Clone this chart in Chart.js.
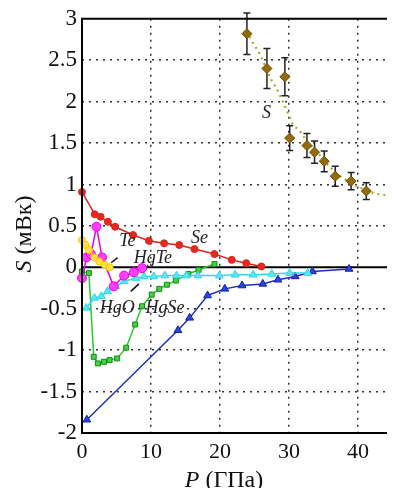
<!DOCTYPE html>
<html lang="ru">
<head>
<meta charset="UTF-8">
<title>S(P)</title>
<script src="https://cdn.jsdelivr.net/npm/chart.js@4.4.1/dist/chart.umd.min.js"></script>
<style>
  html, body { margin: 0; padding: 0; background: #fff; }
  #wrap { width: 393px; height: 488px; }
</style>
</head>
<body>
<div id="wrap"><canvas id="chart" width="393" height="488"></canvas></div>
<script>
// values (P in GPa, S in mV/K)
const seP   = [0, 1.85, 2.7, 3.75, 4.8, 7.4, 9.7, 11.9, 14.1, 16.3, 19.2, 21.7, 23.8, 26.0];
const seS   = [0.91, 0.64, 0.61, 0.55, 0.49, 0.39, 0.32, 0.29, 0.27, 0.22, 0.16, 0.09, 0.05, 0.01];

const teP   = [0, 0.5, 1.0, 1.8, 2.5, 3.3, 4.0];
const teS   = [0.33, 0.27, 0.21, 0.12, 0.07, 0.03, 0.0];

const hgteP = [0, 0.67, 1.3, 2.1, 2.9, 4.6, 6.1, 7.5, 8.7];
const hgteS = [-0.13, 0.12, 0.16, 0.49, 0.12, -0.23, -0.1, -0.06, -0.01];

const hgoP  = [0.6, 1.8, 2.8, 3.7, 4.9, 6.1, 7.8, 9.0, 10.4, 12.0, 13.7, 15.1, 16.8, 19.9, 22.2, 24.8, 27.5, 30.1, 32.7];
const hgoS  = [-0.49, -0.37, -0.35, -0.29, -0.23, -0.17, -0.13, -0.11, -0.11, -0.1, -0.1, -0.1, -0.1, -0.1, -0.09, -0.09, -0.08, -0.07, -0.07];

const hgseP = [0, 1.0, 1.7, 2.3, 3.2, 4.0, 5.1, 6.4, 7.7, 8.7, 10.1, 11.2, 12.3, 13.6, 15.4, 16.9, 19.2];
const hgseS = [-0.05, -0.07, -1.08, -1.16, -1.14, -1.12, -1.1, -0.97, -0.69, -0.47, -0.33, -0.26, -0.21, -0.16, -0.08, -0.03, 0.04];

const blueP = [0.7, 13.9, 15.6, 18.2, 20.7, 23.2, 26.2, 28.4, 30.9, 33.4, 38.7];
const blueS = [-1.84, -0.76, -0.61, -0.34, -0.26, -0.22, -0.2, -0.15, -0.11, -0.05, -0.02];

const sP    = [23.9, 26.8, 29.4, 30.1, 32.6, 33.7, 35.1, 36.7, 39.0, 41.2];
const sS    = [2.82, 2.40, 2.30, 1.56, 1.47, 1.39, 1.28, 1.10, 1.04, 0.92];
const sErr  = [0.25, 0.24, 0.23, 0.15, 0.145, 0.135, 0.125, 0.12, 0.105, 0.10];

const fitP  = [23.9, 24.7, 25.6, 26.5, 27.3, 28.2, 29.0, 29.8, 30.5, 31.7, 32.8, 34.1, 35.7, 37.2, 39.5, 42.4, 44.2];
const fitS  = [2.85, 2.72, 2.6, 2.44, 2.28, 2.16, 2.02, 1.87, 1.73, 1.63, 1.5, 1.39, 1.23, 1.11, 0.99, 0.89, 0.87];

const xTicks = [0, 10, 20, 30, 40];
const yTicks = [-2, -1.5, -1, -0.5, 0, 0.5, 1, 1.5, 2, 2.5, 3];

const pts = (xs, ys) => xs.map((x, i) => ({ x: x, y: ys[i] }));

const SERIF = '"Liberation Serif", "Times New Roman", Times, serif';
Chart.defaults.font.family = SERIF;

// text labels on the plot, placed in data coordinates
const curveLabels = [
  { text: 'Se',   x: 15.8, y: 0.35 },
  { text: 'S',    x: 26.1, y: 1.86 },
  { text: 'Te',   x: 5.4,  y: 0.31 },
  { text: 'HgTe', x: 7.5,  y: 0.11 },
  { text: 'HgO',  x: 2.56, y: -0.49 },
  { text: 'HgSe', x: 9.2,  y: -0.49 }
];
const leaders = [
  [4.22, 0.055, 5.16, 0.116],
  [7.07, -0.29, 8.25, -0.2]
];

const extras = {
  id: 'extras',
  beforeDatasetsDraw(chart) {
    const { ctx, chartArea: a, scales: { x, y } } = chart;
    ctx.save();
    // zero line
    ctx.strokeStyle = '#000';
    ctx.lineWidth = 2;
    ctx.beginPath();
    ctx.moveTo(a.left, y.getPixelForValue(0));
    ctx.lineTo(a.right, y.getPixelForValue(0));
    ctx.stroke();
    // error bars for S
    ctx.strokeStyle = '#222';
    ctx.lineWidth = 1.5;
    sP.forEach((p, i) => {
      const px = x.getPixelForValue(p);
      const top = y.getPixelForValue(sS[i] + sErr[i]);
      const bot = y.getPixelForValue(sS[i] - sErr[i]);
      ctx.beginPath();
      ctx.moveTo(px, top); ctx.lineTo(px, bot);
      ctx.moveTo(px - 3.5, top); ctx.lineTo(px + 3.5, top);
      ctx.moveTo(px - 3.5, bot); ctx.lineTo(px + 3.5, bot);
      ctx.stroke();
    });
    ctx.restore();
  },
  afterDraw(chart) {
    const { ctx, chartArea: a, scales: { x, y } } = chart;
    ctx.save();
    // frame: left, top, bottom
    ctx.strokeStyle = '#000';
    ctx.lineWidth = 2;
    ctx.beginPath();
    ctx.moveTo(a.right, a.top); ctx.lineTo(a.left, a.top);
    ctx.lineTo(a.left, a.bottom); ctx.lineTo(a.right, a.bottom);
    ctx.stroke();

    // curve labels
    ctx.fillStyle = '#222';
    ctx.font = 'italic 18px ' + SERIF;
    ctx.textBaseline = 'middle';
    ctx.textAlign = 'left';
    curveLabels.forEach(l => {
      ctx.fillText(l.text, x.getPixelForValue(l.x), y.getPixelForValue(l.y));
    });
    ctx.strokeStyle = '#111';
    ctx.lineWidth = 1.5;
    leaders.forEach(s => {
      ctx.beginPath();
      ctx.moveTo(x.getPixelForValue(s[0]), y.getPixelForValue(s[1]));
      ctx.lineTo(x.getPixelForValue(s[2]), y.getPixelForValue(s[3]));
      ctx.stroke();
    });

    // axis titles: italic symbol + upright unit
    const title = (sym, unit, cx, cy, rot) => {
      ctx.save();
      ctx.translate(cx, cy);
      ctx.rotate(rot);
      ctx.fillStyle = '#111';
      ctx.textBaseline = 'alphabetic';
      ctx.textAlign = 'left';
      ctx.font = 'italic 24px ' + SERIF;
      const w1 = ctx.measureText(sym).width;
      ctx.font = '24px ' + SERIF;
      const w2 = ctx.measureText(unit).width;
      const x0 = -(w1 + w2) / 2;
      ctx.font = 'italic 24px ' + SERIF;
      ctx.fillText(sym, x0, 0);
      ctx.font = '24px ' + SERIF;
      ctx.fillText(unit, x0 + w1, 0);
      ctx.restore();
    };
    title('P', ' (ГПа)', 224, 487, 0);
    title('S', ' (мВк)', 31, 234, -Math.PI / 2);
    ctx.restore();
  }
};

const line = (label, data, color, marker, radius, fill, extra) => Object.assign({
  label: label,
  data: data,
  borderColor: color,
  borderWidth: 1.5,
  pointStyle: marker,
  pointRadius: radius,
  pointBackgroundColor: fill,
  pointBorderColor: color,
  pointBorderWidth: 1,
  tension: 0,
  clip: false
}, extra || {});

new Chart(document.getElementById('chart'), {
  type: 'scatter',
  data: {
    datasets: [
      line('S', pts(sP, sS), '#6b4a00', 'rectRot', 5, '#946b0a', { showLine: false }),
      line('fit', pts(fitP, fitS), '#a8a82a', 'circle', 0, '#a8a82a', { showLine: true, borderWidth: 2.2, borderDash: [2, 4] }),
      line('Se', pts(seP, seS), '#e0221c', 'circle', 3.5, '#e8281f', { showLine: true }),
      line('Te', pts(teP, teS), '#f0c800', 'circle', 3.5, '#ffe24a', { showLine: true }),
      line('HgTe', pts(hgteP, hgteS), '#e600e6', 'circle', 4.5, '#ff40ff', { showLine: true }),
      line('HgO', pts(hgoP, hgoS), '#30d8e8', 'triangle', 4.5, '#5ae6f2', { showLine: true }),
      line('HgSe', pts(hgseP, hgseS), '#2ec82e', 'rect', 3.5, '#3fd43f', { showLine: true, pointBorderColor: '#138a13' }),
      line('blue', pts(blueP, blueS), '#1f2fc0', 'triangle', 4.5, '#2a44e0', { showLine: true, pointBorderColor: '#15209a' })
    ]
  },
  options: {
    responsive: false,
    animation: false,
    events: [],
    layout: { padding: { top: 18, right: 0, left: 0, bottom: 0 } },
    plugins: { legend: { display: false }, tooltip: { enabled: false } },
    scales: {
      x: {
        type: 'linear',
        min: 0,
        max: 44.2,
        afterBuildTicks: s => { s.ticks = xTicks.map(v => ({ value: v })); },
        afterFit: s => { s.height = 55; },
        grid: {
          drawTicks: false,
          lineWidth: 1.5,
          color: c => (c.tick && c.tick.value === 0) ? 'rgba(0,0,0,0)' : '#333'
        },
        border: { display: false, dash: [2, 5] },
        ticks: {
          padding: 6,
          color: '#111',
          font: { family: SERIF, size: 22 },
          callback: v => String(v)
        }
      },
      y: {
        type: 'linear',
        min: -2,
        max: 3,
        afterBuildTicks: s => { s.ticks = yTicks.map(v => ({ value: v })); },
        afterFit: s => { s.width = 82; },
        grid: {
          drawTicks: false,
          lineWidth: 1.5,
          color: c => (c.tick && [0, 3, -2].includes(c.tick.value)) ? 'rgba(0,0,0,0)' : '#333'
        },
        border: { display: false, dash: [2, 5] },
        ticks: {
          padding: 5,
          color: '#111',
          font: { family: SERIF, size: 23 },
          callback: v => String(v)
        }
      }
    }
  },
  plugins: [extras]
});
</script>
</body>
</html>
